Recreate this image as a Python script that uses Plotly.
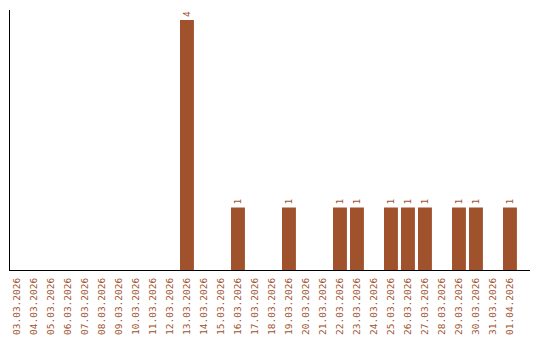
import plotly.graph_objects as go

dates = ["03.03.2026","04.03.2026","05.03.2026","06.03.2026","07.03.2026","08.03.2026",
         "09.03.2026","10.03.2026","11.03.2026","12.03.2026","13.03.2026","14.03.2026",
         "15.03.2026","16.03.2026","17.03.2026","18.03.2026","19.03.2026","20.03.2026",
         "21.03.2026","22.03.2026","23.03.2026","24.03.2026","25.03.2026","26.03.2026",
         "27.03.2026","28.03.2026","29.03.2026","30.03.2026","31.03.2026","01.04.2026"]
counts = [0,0,0,0,0,0,0,0,0,0,4,0,0,1,0,0,1,0,0,1,1,0,1,1,1,0,1,1,0,1]

color = "#A0522D"
labels = [str(v) if v > 0 else "" for v in counts]

fig = go.Figure(go.Bar(
    x=dates, y=counts, marker=dict(color=color, line=dict(width=0)),
    text=labels, textposition="outside", textangle=-90,
    textfont=dict(family="DejaVu Sans Mono", size=9.5, color=color),
    cliponaxis=False,
))
fig.update_layout(
    width=540, height=340, margin=dict(l=10, r=10, t=10, b=70),
    paper_bgcolor="white", plot_bgcolor="white", bargap=0.18, showlegend=False,
    xaxis=dict(type="category", range=[-0.41, 30.18], showline=True, linecolor="black",
               linewidth=1, ticks="", tickangle=-90, showgrid=False, ticklabelstandoff=3,
               automargin=False,
               tickfont=dict(family="DejaVu Sans Mono", size=9.5, color=color)),
    yaxis=dict(range=[0, 4.16], showline=True, linecolor="black", linewidth=1,
               showticklabels=False, ticks="", showgrid=False, zeroline=False,
               automargin=False),
)
fig.write_html("out.html")
